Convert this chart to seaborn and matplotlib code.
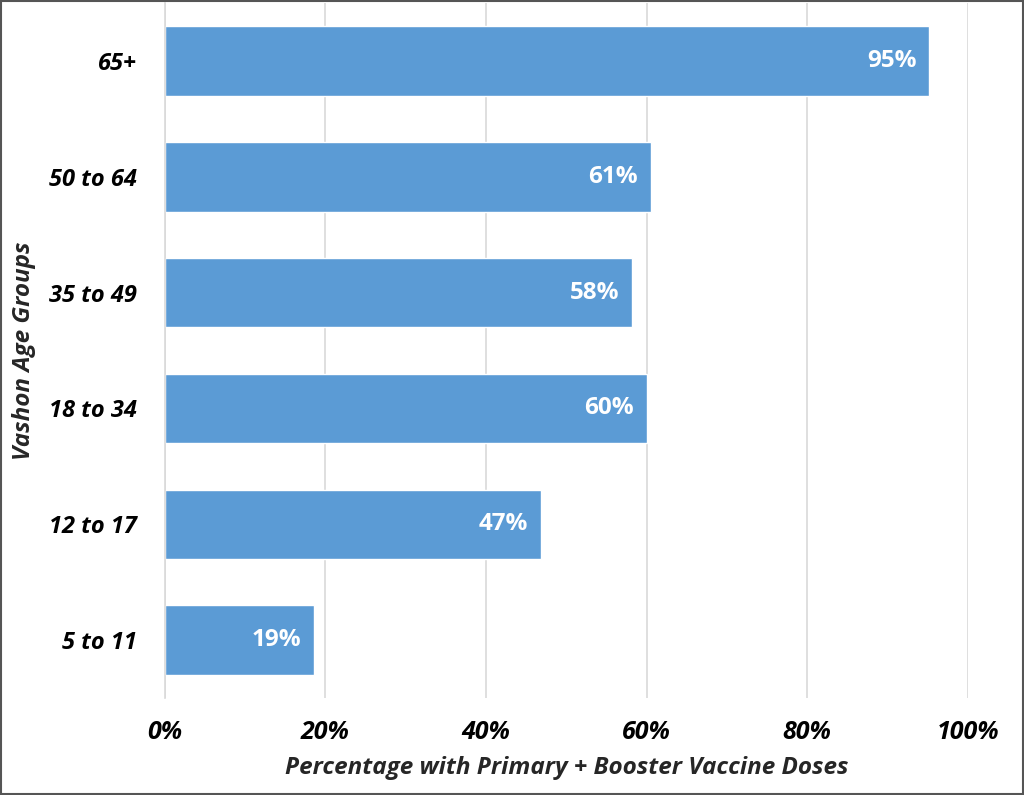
import matplotlib
matplotlib.use("Agg")
import matplotlib.pyplot as plt
import seaborn as sns
import pandas as pd
from matplotlib.ticker import PercentFormatter

sns.set_theme(style="whitegrid")
plt.rcParams["font.family"] = ["Open Sans", "DejaVu Sans"]

# Data
age_groups = ["65+", "50 to 64", "35 to 49", "18 to 34", "12 to 17", "5 to 11"]
pct_boosted = [95.2, 60.5, 58.2, 60.0, 46.8, 18.6]
bar_labels = ["95%", "61%", "58%", "60%", "47%", "19%"]

df = pd.DataFrame({"group": age_groups, "pct": pct_boosted})

fig = plt.figure(figsize=(10.24, 7.95), dpi=100)
ax = fig.add_axes([0.161, 0.122, 0.784, 0.874])

sns.barplot(data=df, x="pct", y="group", color="#5B9BD5", saturation=1,
            width=0.6, ax=ax)

for i, (v, lab) in enumerate(zip(pct_boosted, bar_labels)):
    ax.text(v - 1.6, i, lab, ha="right", va="center", color="white",
            fontsize=17.5, fontweight="bold")

ax.set_xlim(0, 100)
ax.set_xticks([0, 20, 40, 60, 80, 100])
ax.xaxis.set_major_formatter(PercentFormatter(decimals=0))
ax.grid(axis="x", color="#D9D9D9", linewidth=1.2)
ax.grid(axis="y", visible=False)
for side in ["top", "right", "bottom"]:
    ax.spines[side].set_visible(False)
ax.spines["left"].set_color("#D9D9D9")
ax.spines["left"].set_linewidth(1.2)
ax.tick_params(axis="both", length=0, colors="black")
ax.tick_params(axis="x", pad=16, labelsize=18)
ax.tick_params(axis="y", pad=20, labelsize=17)
for t in ax.get_xticklabels() + ax.get_yticklabels():
    t.set_fontweight("bold")
    t.set_fontstyle("italic")

ax.set_xlabel("Percentage with Primary + Booster Vaccine Doses", fontsize=17.5,
              fontweight="bold", fontstyle="italic", labelpad=8)
ax.set_ylabel("Vashon Age Groups", fontsize=17.5, fontweight="bold",
              fontstyle="italic")
ax.yaxis.set_label_coords(-0.16, 0.5)

fig.patches.append(plt.Rectangle((0.001, 0.001), 0.998, 0.998,
                                 transform=fig.transFigure, fill=False,
                                 edgecolor="#555555", linewidth=1.5))

fig.savefig("out.png", dpi=100)
